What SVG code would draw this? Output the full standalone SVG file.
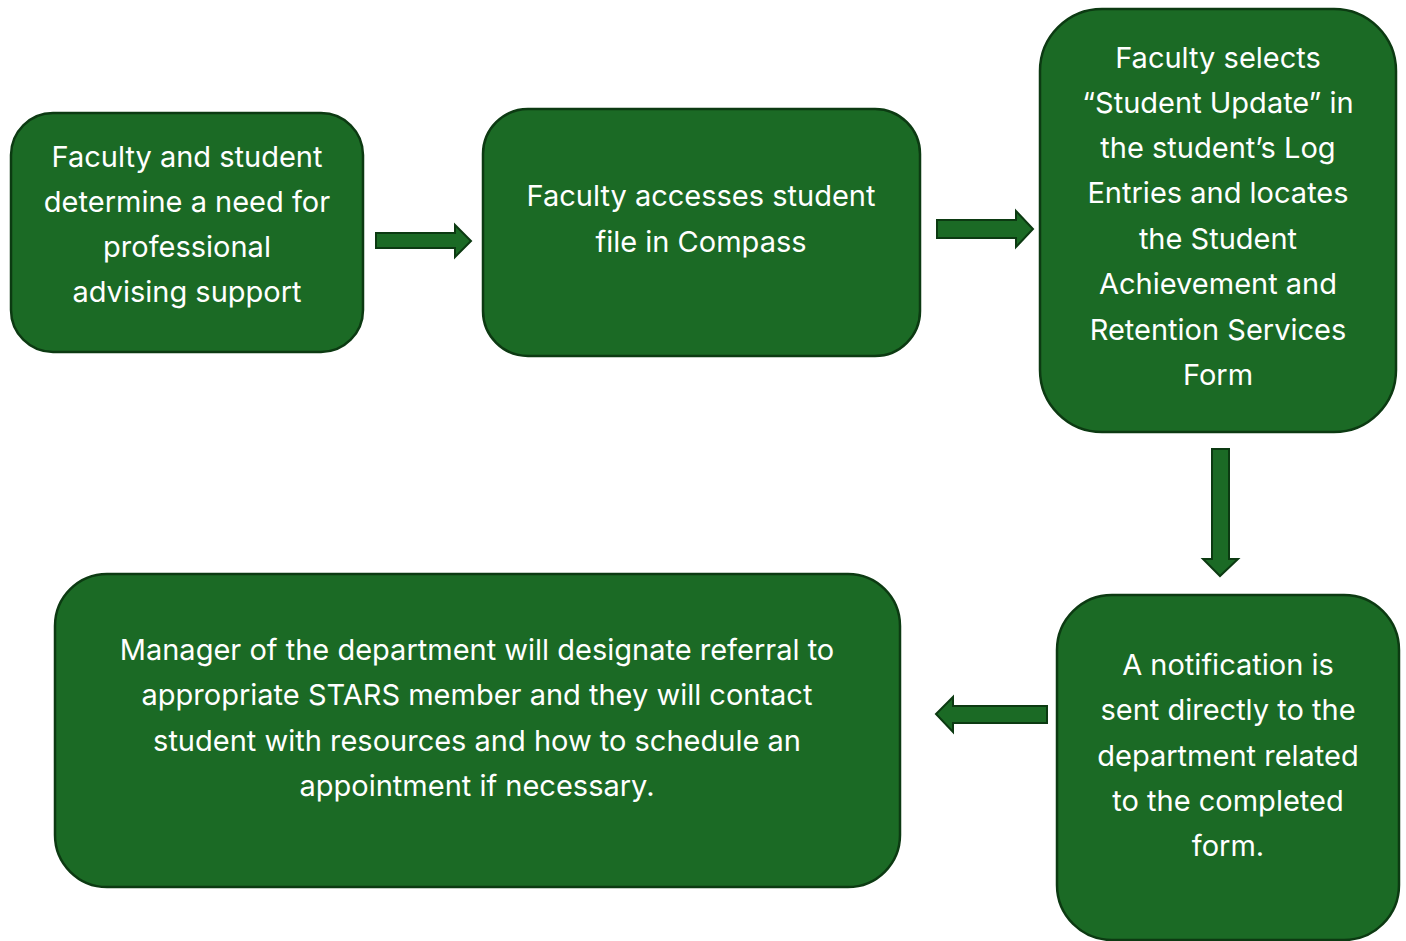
<svg xmlns="http://www.w3.org/2000/svg" width="1406" height="941" viewBox="0 0 1406 941">
  <style>
    .box { fill: #1b6a25; stroke: #0c3a12; stroke-width: 2.5; }
    .arrow { fill: #1b6a25; stroke: #0c3a12; stroke-width: 2; stroke-linejoin: miter; }
    .label { fill: #ffffff; font-family: Inter, "Open Sans", "Liberation Sans", sans-serif; font-size: 29px; text-anchor: middle; }
  </style>
  <rect width="1406" height="941" fill="#ffffff"/>

  <g id="connectors">
    <!-- step 1 to step 2 -->
    <path class="arrow" d="M376,233 H455 V225 L471,241 L455,257 V248 H376 Z"/>
    <!-- step 2 to step 3 -->
    <path class="arrow" d="M937,220 H1016 V211 L1033,229 L1016,247 V238 H937 Z"/>
    <!-- step 3 down to step 4 -->
    <path class="arrow" d="M1212,449 H1229 V559 H1238 L1220,576 L1203,559 H1212 Z"/>
    <!-- step 4 back to step 5 -->
    <path class="arrow" d="M1047,706 H953 V697 L936,714 L953,732 V723 H1047 Z"/>
  </g>

  <g id="node-need">
    <rect class="box" x="11" y="113" width="352" height="239" rx="42" ry="42"/>
    <text class="label" x="187" y="167">Faculty and student</text>
    <text class="label" x="187" y="212">determine a need for</text>
    <text class="label" x="187" y="257">professional</text>
    <text class="label" x="187" y="302">advising support</text>
  </g>

  <g id="node-access">
    <rect class="box" x="483" y="109" width="437" height="247" rx="45" ry="45"/>
    <text class="label" x="701" y="206">Faculty accesses student</text>
    <text class="label" x="701" y="252">file in Compass</text>
  </g>

  <g id="node-select">
    <rect class="box" x="1040" y="9" width="356" height="423" rx="62" ry="62"/>
    <text class="label" x="1218" y="68">Faculty selects</text>
    <text class="label" x="1218" y="113">“Student Update” in</text>
    <text class="label" x="1218" y="158">the student’s Log</text>
    <text class="label" x="1218" y="203">Entries and locates</text>
    <text class="label" x="1218" y="249">the Student</text>
    <text class="label" x="1218" y="294">Achievement and</text>
    <text class="label" x="1218" y="340">Retention Services</text>
    <text class="label" x="1218" y="385">Form</text>
  </g>

  <g id="node-notify">
    <rect class="box" x="1057" y="595" width="342" height="345" rx="55" ry="55"/>
    <text class="label" x="1228" y="675">A notification is</text>
    <text class="label" x="1228" y="720">sent directly to the</text>
    <text class="label" x="1228" y="766">department related</text>
    <text class="label" x="1228" y="811">to the completed</text>
    <text class="label" x="1228" y="856">form.</text>
  </g>

  <g id="node-referral">
    <rect class="box" x="55" y="574" width="845" height="313" rx="52" ry="52"/>
    <text class="label" x="477" y="660">Manager of the department will designate referral to</text>
    <text class="label" x="477" y="705">appropriate STARS member and they will contact</text>
    <text class="label" x="477" y="751">student with resources and how to schedule an</text>
    <text class="label" x="477" y="796">appointment if necessary.</text>
  </g>
</svg>
